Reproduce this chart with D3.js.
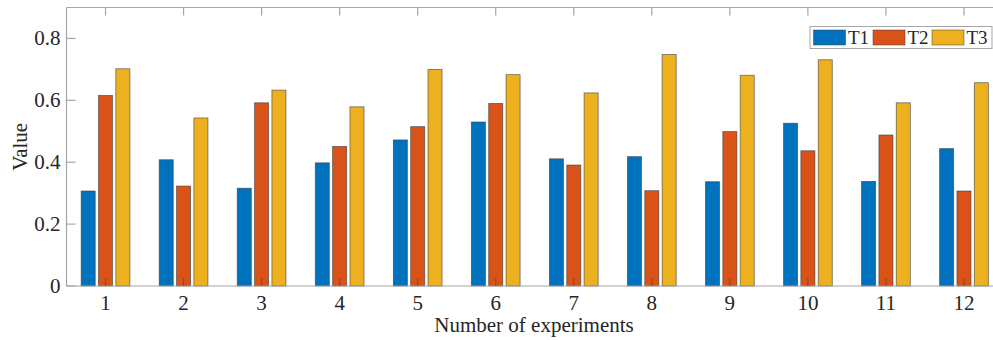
<!DOCTYPE html>
<html>
<head>
<meta charset="utf-8">
<script src="https://cdn.jsdelivr.net/npm/d3@7"></script>
<style>
  html, body { margin: 0; padding: 0; background: #fff; }
  svg { display: block; }
  text { fill: #262626; font-family: "Liberation Serif", "DejaVu Serif", serif; }
</style>
</head>
<body>
<svg id="chart" width="993" height="340"></svg>
<script>
const experiments = [1, 2, 3, 4, 5, 6, 7, 8, 9, 10, 11, 12];
const seriesNames = ['T1', 'T2', 'T3'];
const t1 = [0.307, 0.408, 0.316, 0.398, 0.472, 0.530, 0.411, 0.418, 0.337, 0.526, 0.338, 0.444];
const t2 = [0.616, 0.323, 0.592, 0.451, 0.515, 0.590, 0.391, 0.308, 0.499, 0.437, 0.488, 0.307];
const t3 = [0.702, 0.543, 0.633, 0.579, 0.700, 0.683, 0.624, 0.748, 0.681, 0.731, 0.592, 0.657];
const yTicks = [0, 0.2, 0.4, 0.6, 0.8];
const COLORS = ['#0072BD', '#D95319', '#EDB120'];

const svg = d3.select('#chart');
const L = 66.5, T = 7.5, B = 286, R = 1003;
const AXIS = '#a6a6a6';

const x = d3.scaleLinear().domain([0.5, 12.5]).range([L, R]);
const y = d3.scaleLinear().domain([0, 0.9]).range([B, T]);

const allSeries = [t1, t2, t3];
const offset = 0.2222, bw = 0.18;

// bars
allSeries.forEach((vals, si) => {
  svg.append('g').selectAll('rect').data(vals).join('rect')
    .attr('x', (d, i) => x(experiments[i] + (si - 1) * offset - bw / 2))
    .attr('width', x(bw) - x(0))
    .attr('y', d => y(d))
    .attr('height', d => y(0) - y(d))
    .attr('fill', COLORS[si])
    .attr('stroke', '#3a3a3a')
    .attr('stroke-opacity', 0.7)
    .attr('stroke-width', 0.8);
});

// axes box (left, top, bottom) and inward ticks
const ax = svg.append('g').attr('stroke', AXIS).attr('stroke-width', 1.2).attr('fill', 'none');
ax.append('line').attr('x1', L).attr('x2', R).attr('y1', B).attr('y2', B);
ax.append('line').attr('x1', L).attr('x2', R).attr('y1', T).attr('y2', T);
ax.append('line').attr('x1', L).attr('x2', L).attr('y1', T).attr('y2', B);
experiments.forEach(e => {
  ax.append('line').attr('x1', x(e)).attr('x2', x(e)).attr('y1', B).attr('y2', B - 8)
    .attr('stroke', '#7a3a20').attr('stroke-opacity', 0.6);
  ax.append('line').attr('x1', x(e)).attr('x2', x(e)).attr('y1', T).attr('y2', T + 8);
});
yTicks.forEach(v => {
  ax.append('line').attr('x1', L).attr('x2', L + 9).attr('y1', y(v)).attr('y2', y(v));
});

// tick labels
svg.append('g').selectAll('text').data(experiments).join('text')
  .attr('x', d => x(d)).attr('y', 310)
  .attr('text-anchor', 'middle').attr('font-size', 21)
  .text(d => d);
svg.append('g').selectAll('text').data(yTicks).join('text')
  .attr('x', L - 6).attr('y', d => y(d) + 7)
  .attr('text-anchor', 'end').attr('font-size', 21)
  .text(d => d === 0 ? '0' : d3.format('.1f')(d));

// axis titles
svg.append('text').attr('x', 534).attr('y', 332)
  .attr('text-anchor', 'middle').attr('font-size', 21)
  .text('Number of experiments');
svg.append('text').attr('transform', `translate(27,${(T + B) / 2}) rotate(-90)`)
  .attr('text-anchor', 'middle').attr('font-size', 21)
  .text('Value');

// legend
const lg = svg.append('g');
lg.append('rect').attr('x', 810).attr('y', 26.5).attr('width', 182).attr('height', 22)
  .attr('fill', '#fff').attr('stroke', AXIS).attr('stroke-width', 1);
const legX = [813.5, 873, 932];
seriesNames.forEach((n, i) => {
  lg.append('rect').attr('x', legX[i]).attr('y', 30).attr('width', 32).attr('height', 15)
    .attr('fill', COLORS[i]).attr('stroke', '#3a3a3a').attr('stroke-opacity', 0.6).attr('stroke-width', 0.8);
  lg.append('text').attr('x', legX[i] + 34.5).attr('y', 44).attr('font-size', 19).text(n);
});
</script>
</body>
</html>
